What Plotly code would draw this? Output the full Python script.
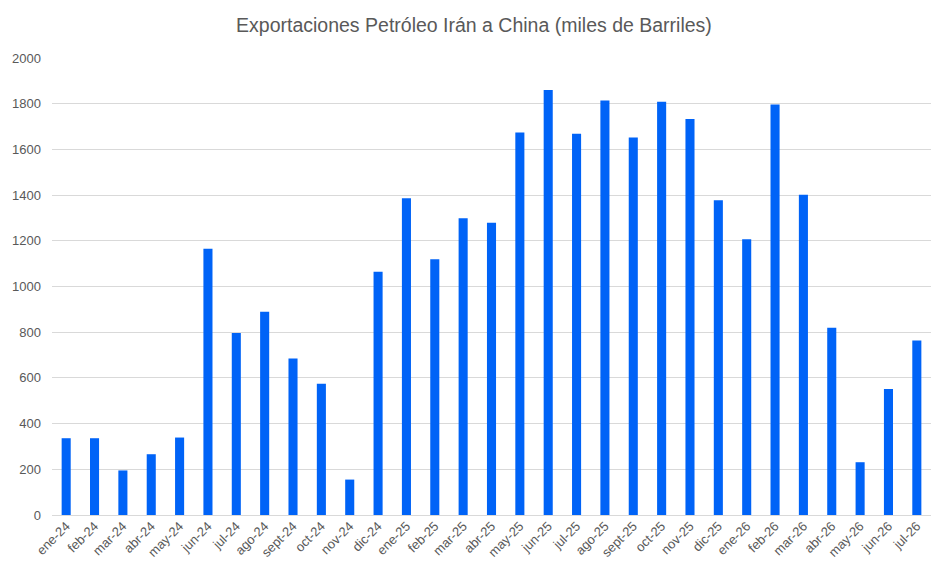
import plotly.graph_objects as go

months = [
    "ene-24", "feb-24", "mar-24", "abr-24", "may-24", "jun-24", "jul-24", "ago-24",
    "sept-24", "oct-24", "nov-24", "dic-24", "ene-25", "feb-25", "mar-25", "abr-25",
    "may-25", "jun-25", "jul-25", "ago-25", "sept-25", "oct-25", "nov-25", "dic-25",
    "ene-26", "feb-26", "mar-26", "abr-26", "may-26", "jun-26", "jul-26",
]
barriles = [
    336, 336, 195, 266, 339, 1165, 796, 889,
    685, 574, 155, 1065, 1386, 1119, 1299, 1279,
    1674, 1860, 1668, 1814, 1652, 1809, 1733, 1377,
    1207, 1797, 1401, 820, 231, 551, 764,
]
y_ticks = [0, 200, 400, 600, 800, 1000, 1200, 1400, 1600, 1800, 2000]

gray = "#595959"

fig = go.Figure(go.Bar(x=months, y=barriles, marker_color="#0063F7",
                       marker_line_width=0))

# page body has an 8px margin, so the figure is a bit smaller than the window
fig.update_layout(
    width=940, height=569,
    margin=dict(l=44, r=17, t=50, b=62),
    paper_bgcolor="white", plot_bgcolor="white",
    bargap=0.68,
    font=dict(family="Liberation Sans, Arial, sans-serif", color=gray, size=13),
    title=dict(text="Exportaciones Petróleo Irán a China (miles de Barriles)",
               x=0.4957, xanchor="center", y=0.97, yanchor="middle",
               font=dict(size=19.5, color=gray)),
    showlegend=False,
)
fig.update_xaxes(tickangle=-45, showgrid=False, showline=False, ticks="",
                 automargin=False, tickfont=dict(size=13, color=gray))
fig.update_yaxes(range=[0, 2000], tickvals=y_ticks, gridcolor="#d9d9d9",
                 gridwidth=1, zeroline=True, zerolinecolor="#d9d9d9",
                 zerolinewidth=1, ticks="", ticklabelstandoff=10,
                 automargin=False, tickfont=dict(size=13, color=gray))

fig.write_html("out.html")
